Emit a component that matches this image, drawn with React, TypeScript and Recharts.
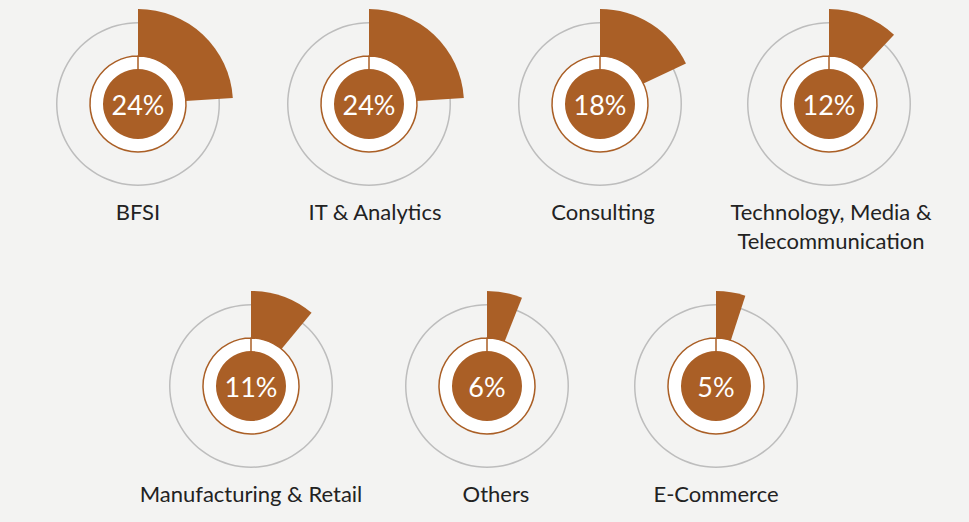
import { PieChart, Pie, Cell } from "recharts";

const categories = [
  "BFSI",
  "IT & Analytics",
  "Consulting",
  "Technology, Media &\nTelecommunication",
  "Manufacturing & Retail",
  "Others",
  "E-Commerce",
];
const shares = [24, 24, 18, 12, 11, 6, 5];

// layout: donut centres (px) and label x nudges
const centers = [
  [138, 104],
  [369, 104],
  [600, 104],
  [829, 104],
  [251, 386],
  [487, 386],
  [716, 386],
];
const labelDx = [0, 6, 3, 2, 0, 9, 0];

const BROWN = "#AA5F26";
const GRAY = "#BDBDBD";
const FONT = "Lato, 'Noto Sans', sans-serif";

export default function App() {
  return (
    <div style={{ position: "absolute", left: 0, top: 0, width: 969, height: 522, background: "#F3F3F2" }}>
      <PieChart width={969} height={522} margin={{ top: 0, right: 0, bottom: 0, left: 0 }}>
        {categories.map((name, i) => {
          const [cx, cy] = centers[i];
          const pct = shares[i];
          return [
            <Pie
              key={`ring-${i}`}
              data={[{ v: 1 }]}
              dataKey="v"
              cx={cx}
              cy={cy}
              innerRadius={80.5}
              outerRadius={82}
              startAngle={90}
              endAngle={-270}
              stroke="none"
              fill={GRAY}
              isAnimationActive={false}
              labelLine={false}
              label={(p: any) => {
                const lines = name.split("\n");
                const x = p.cx + labelDx[i];
                return (
                  <text
                    x={x}
                    y={p.cy + 116}
                    textAnchor="middle"
                    fontFamily={FONT}
                    fontSize={22}
                    fill="#222"
                  >
                    {lines.map((l, j) => (
                      <tspan key={j} x={x} dy={j === 0 ? 0 : 29}>
                        {l}
                      </tspan>
                    ))}
                  </text>
                );
              }}
            />,
            <Pie
              key={`wedge-${i}`}
              data={[{ v: pct }, { v: 100 - pct }]}
              dataKey="v"
              cx={cx}
              cy={cy}
              innerRadius={0}
              outerRadius={95}
              startAngle={90}
              endAngle={-270}
              stroke="none"
              isAnimationActive={false}
            >
              <Cell fill={BROWN} />
              <Cell fill="transparent" />
            </Pie>,
            <Pie
              key={`white-${i}`}
              data={[{ v: 1 }]}
              dataKey="v"
              cx={cx}
              cy={cy}
              innerRadius={0}
              outerRadius={48}
              startAngle={90}
              endAngle={-270}
              fill="#FFFFFF"
              stroke={BROWN}
              strokeWidth={1.5}
              isAnimationActive={false}
            />,
            <Pie
              key={`core-${i}`}
              data={[{ v: 1 }]}
              dataKey="v"
              cx={cx}
              cy={cy}
              innerRadius={0}
              outerRadius={35}
              startAngle={90}
              endAngle={-270}
              fill={BROWN}
              stroke="none"
              isAnimationActive={false}
              labelLine={false}
              label={(p: any) => (
                <text
                  x={p.cx}
                  y={p.cy}
                  textAnchor="middle"
                  dominantBaseline="central"
                  fontFamily={FONT}
                  fontWeight={400}
                  fontSize={27}
                  fill="#FFFFFF"
                >
                  {`${pct}%`}
                </text>
              )}
            />,
          ];
        })}
      </PieChart>
    </div>
  );
}
